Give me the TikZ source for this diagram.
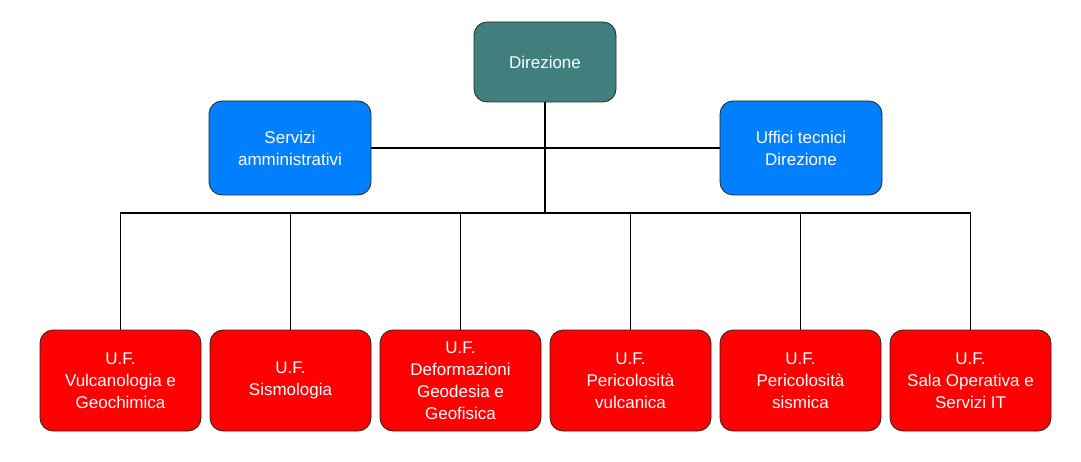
\documentclass[tikz,border=0pt]{standalone}
\usepackage{fontspec}
\setmainfont{Liberation Sans}
\definecolor{teal1}{HTML}{417F7F}
\definecolor{blue1}{HTML}{0080FF}
\definecolor{red1}{HTML}{FF0000}
\begin{document}
\begin{tikzpicture}[x=1pt,y=-1pt,
  box/.style={draw=black!85, line width=0.8pt, rounded corners=13pt, text=white, align=center,
     font=\fontsize{17}{22}\selectfont, inner sep=0pt},
  line/.style={draw=black, line width=1.5pt}]
\useasboundingbox (0,0) rectangle (1081,462);
\node[box, fill=teal1, minimum width=142pt, minimum height=80pt] (dir) at (545,62) {Direzione};
\node[box, fill=blue1, minimum width=162pt, minimum height=94pt] (serv) at (290,148) {Servizi\\amministrativi};
\node[box, fill=blue1, minimum width=162pt, minimum height=94pt] (uff) at (801,148) {Uffici tecnici\\Direzione};
\foreach \n/\x/\t in {a/120.5/{U.F.\\Vulcanologia e\\Geochimica},
  b/290.5/{U.F.\\Sismologia},
  c/460.5/{U.F.\\Deformazioni\\Geodesia e\\Geofisica},
  d/630.5/{U.F.\\Pericolosità\\vulcanica},
  e/800.5/{U.F.\\Pericolosità\\sismica},
  f/970.5/{U.F.\\Sala Operativa e\\Servizi IT}}
  \node[box, fill=red1, minimum width=161pt, minimum height=101pt] (\n) at (\x,380.5) {\t};
\coordinate (hub) at (545,213);
\draw[line] (dir.south) -- (hub);
\draw[line] (serv.east) -- (uff.west);
\draw[line] (a.north) |- (hub) -| (f.north);
\foreach \n in {b,c,d,e} \draw[line] (\n.north) -- (\n.north |- hub);
\end{tikzpicture}
\end{document}
